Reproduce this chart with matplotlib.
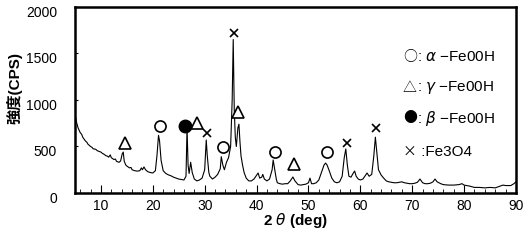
import matplotlib
matplotlib.use("Agg")
import matplotlib.pyplot as plt
from matplotlib.transforms import ScaledTranslation

plt.rcParams['font.family'] = ['Liberation Sans', 'Noto Sans CJK JP', 'DejaVu Sans']
plt.rcParams['mathtext.fontset'] = 'dejavusans'

# XRD trace (2theta in deg, intensity in CPS)
two_theta = [5.0, 5.3, 5.6, 6.0, 6.3, 6.5, 7.0, 7.3, 7.5, 8.0, 8.3, 8.5, 9.0, 9.3, 9.5,
             10.0, 10.3, 10.5, 11.0, 11.3, 11.5, 11.8, 12.0, 12.5, 12.8, 13.0, 13.5,
             13.8, 14.1, 14.3, 14.5, 14.8, 15.0, 15.5, 15.8, 16.0, 16.5, 17.0, 17.5,
             17.8, 18.0, 18.3, 18.6, 19.0, 19.5, 20.0, 20.5, 20.8, 21.1, 21.3, 21.6,
             22.0, 22.5, 23.0, 23.5, 24.0, 24.5, 25.0, 25.5, 26.0, 26.4, 26.6, 26.8,
             27.0, 27.3, 27.6, 28.0, 28.5, 29.0, 29.5, 30.0, 30.3, 30.5, 30.8, 31.0,
             31.5, 32.0, 32.5, 33.0, 33.2, 33.5, 33.8, 34.2, 34.6, 35.0, 35.3, 35.5,
             35.7, 35.9, 36.1, 36.4, 36.6, 36.8, 37.0, 37.3, 37.6, 38.0, 38.5, 39.0,
             39.5, 40.0, 40.3, 40.6, 41.0, 41.2, 41.5, 42.0, 42.5, 43.0, 43.2, 43.5,
             43.8, 44.0, 44.5, 45.0, 45.5, 46.0, 46.5, 47.0, 47.4, 48.0, 48.5, 49.0,
             49.5, 50.0, 50.3, 50.6, 51.0, 51.5, 52.0, 52.5, 53.0, 53.3, 53.6, 54.0,
             54.5, 55.0, 55.5, 56.0, 56.5, 56.9, 57.2, 57.5, 57.8, 58.2, 58.6, 58.9,
             59.2, 59.6, 60.0, 60.5, 61.0, 61.3, 61.7, 62.2, 62.6, 62.9, 63.2, 63.5,
             64.0, 64.5, 65.0, 65.5, 66.0, 66.5, 67.0, 67.5, 68.0, 68.5, 69.0, 69.5,
             70.0, 70.5, 71.0, 71.5, 72.0, 72.5, 73.0, 73.5, 74.0, 74.4, 74.8, 75.5,
             76.0, 77.0, 78.0, 79.0, 79.6, 80.0, 81.0, 82.0, 83.0, 84.0, 85.0, 86.0,
             87.0, 87.5, 88.0, 89.0, 89.6, 90.0]
intensity = [850, 760, 700, 650, 630, 600, 560, 545, 525, 500, 490, 475, 470, 455, 450,
             440, 425, 420, 400, 395, 385, 410, 380, 360, 365, 340, 330,
             345, 420, 440, 340, 300, 290, 270, 275, 250, 240, 235, 240,
             270, 250, 280, 250, 230, 220, 215, 240, 400, 620, 560, 350,
             240, 210, 195, 185, 170, 160, 150, 145, 140, 180, 700, 300,
             210, 330, 220, 150, 130, 140, 160, 250, 570, 400, 220, 180,
             150, 170, 200, 260, 390, 300, 250, 330, 380, 500, 1000, 1650,
             900, 600, 500, 700, 740, 550, 400, 300, 220, 160, 130, 130,
             150, 190, 215, 160, 170, 200, 150, 130, 150, 250, 355, 250,
             150, 110, 100, 95, 100, 100, 130, 172, 130, 90, 85, 90,
             95, 110, 160, 100, 100, 110, 140, 220, 300, 322, 300, 240,
             160, 120, 110, 120, 180, 380, 473, 300, 180, 170, 210, 236,
             180, 150, 140, 150, 190, 215, 180, 200, 400, 600, 420, 250,
             194, 160, 130, 120, 115, 110, 110, 115, 120, 110, 105, 100,
             100, 105, 115, 150, 110, 100, 100, 105, 120, 150, 120, 100,
             90, 85, 85, 90, 100, 85, 75, 60, 60, 55, 60, 55,
             75, 85, 80, 80, 100, 120]

# phase marks
alpha_x = [21.4, 33.5, 43.5, 53.6]
alpha_y = [720, 495, 440, 440]
gamma_x = [14.6, 28.5, 36.5, 47.2]
gamma_y = [537, 750, 870, 312]
beta_x = [26.2]
beta_y = [720]
fe3o4_x = [30.5, 35.7, 57.4, 63.0]
fe3o4_y = [645, 1720, 537, 697]

legend_syms = ["○", "△", "●", "×"]
legend_names = [r": $\it{\alpha}$ −Fe00H", r": $\it{\gamma}$ −Fe00H", r": $\it{\beta}$ −Fe00H", " :Fe3O4"]
legend_y = [1462, 1129, 806, 441]

fig = plt.figure(figsize=(5.31, 2.41), dpi=100)
ax = fig.add_axes([0.1412, 0.1992, 0.8305, 0.7718])

ax.plot(two_theta, intensity, color='black', lw=0.8)
ax.plot(alpha_x, alpha_y, 'o', ms=8, mfc='white', mec='black', mew=1.2)
ax.plot(gamma_x, gamma_y, '^', ms=8, mfc='white', mec='black', mew=1.2)
ax.plot(beta_x, beta_y, 'o', ms=9, mfc='black', mec='black')
ax.plot(fe3o4_x, fe3o4_y, 'x', ms=5.5, mec='black', mew=1.2)

for sym, name, y in zip(legend_syms, legend_names, legend_y):
    ax.text(68.2, y, sym, fontsize=10, va='center', ha='left', family='Noto Sans CJK JP')
    ax.text(71.0, y, name, fontsize=11, va='center', ha='left')

ax.set_xlim(5, 90)
ax.set_ylim(0, 2000)
ax.set_xticks(range(10, 91, 10))
ax.set_xticks(range(6, 91, 2), minor=True)
ax.set_yticks(range(0, 2001, 500))
ax.tick_params(axis='both', which='major', direction='in', labelsize=10, width=0.8)
ax.tick_params(axis='x', which='major', length=6, pad=4)
ax.tick_params(axis='x', which='minor', direction='in', length=3, width=0.6)
ax.tick_params(axis='y', which='major', length=2, pad=13)
for lbl in ax.get_yticklabels():
    lbl.set_transform(lbl.get_transform() + ScaledTranslation(0, -0.045, fig.dpi_scale_trans))
for s in ax.spines.values():
    s.set_linewidth(1.8)

fig.text(0.027, 0.635, "強度(CPS)", rotation=90, rotation_mode='anchor', fontsize=11,
         fontweight='bold', ha='center', va='center')
ax.set_xlabel(r"2 $\it{\theta}$ (deg)", fontsize=11, fontweight='bold', labelpad=-1)

fig.savefig("out.png", dpi=100)
